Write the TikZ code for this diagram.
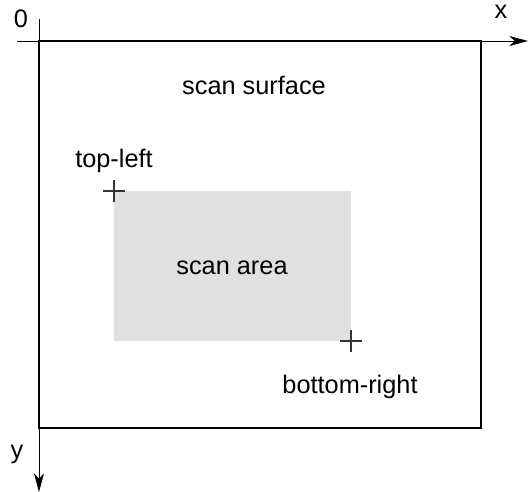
\documentclass[tikz,border=0pt]{standalone}
\usepackage{fontspec}
\setmainfont{Liberation Sans}
\usetikzlibrary{arrows.meta}

\tikzset{
  axisline/.style={line width=0.7pt,-{Stealth[length=14pt,width=7.5pt,inset=4pt]}},
  marker/.style={color=black!80,line width=0.9pt},
  label/.style={inner sep=0pt,anchor=base}
}

\begin{document}
\begin{tikzpicture}[x=0.75pt,y=0.75pt,yscale=-1,xscale=1,font=\fontsize{19}{23}\selectfont]
        \useasboundingbox (0,0) rectangle (528,492); %set diagram to 528 x 492

        %Shape: Rectangle [scan area]
        \fill [color=black!12] (114,191) rectangle (351,341) ;
        %Shape: Rectangle [scan surface]
        \draw [line width=1.8pt] (39,41) rectangle (481,428) ;

        %Axes
        \coordinate (xstart) at (17,41) ;
        \coordinate (xend) at (528,41) ;
        \coordinate (ystart) at (39,19) ;
        \coordinate (yend) at (39,492) ;
        \draw [axisline] (xstart) -- (xend) ;
        \draw [axisline] (ystart) -- (yend) ;

        %Crosses
        \coordinate (tl) at (114,191) ;
        \coordinate (br) at (351,341) ;
        \draw [marker] ([xshift=-8.25pt]tl) -- ([xshift=8.25pt]tl) ([yshift=-8.25pt]tl) -- ([yshift=8.25pt]tl) ;
        \draw [marker] ([xshift=-8.25pt]br) -- ([xshift=8.25pt]br) ([yshift=-8.25pt]br) -- ([yshift=8.25pt]br) ;

        % Text Node
        \draw (21,28) node (zero) [label] {0};
        % Text Node
        \draw (501,19) node (xlabel) [label] {x};
        % Text Node
        \draw (17,458) node (ylabel) [label] {y};
        % Text Node
        \draw (254,94) node (surface) [label] {scan surface};
        % Text Node
        \draw (114,167) node (topleft) [label] {top-left};
        % Text Node
        \draw (232,274) node (area) [label] {scan area};
        % Text Node
        \draw (350,393) node (bottomright) [label] {bottom-right};

\end{tikzpicture}
\end{document}
